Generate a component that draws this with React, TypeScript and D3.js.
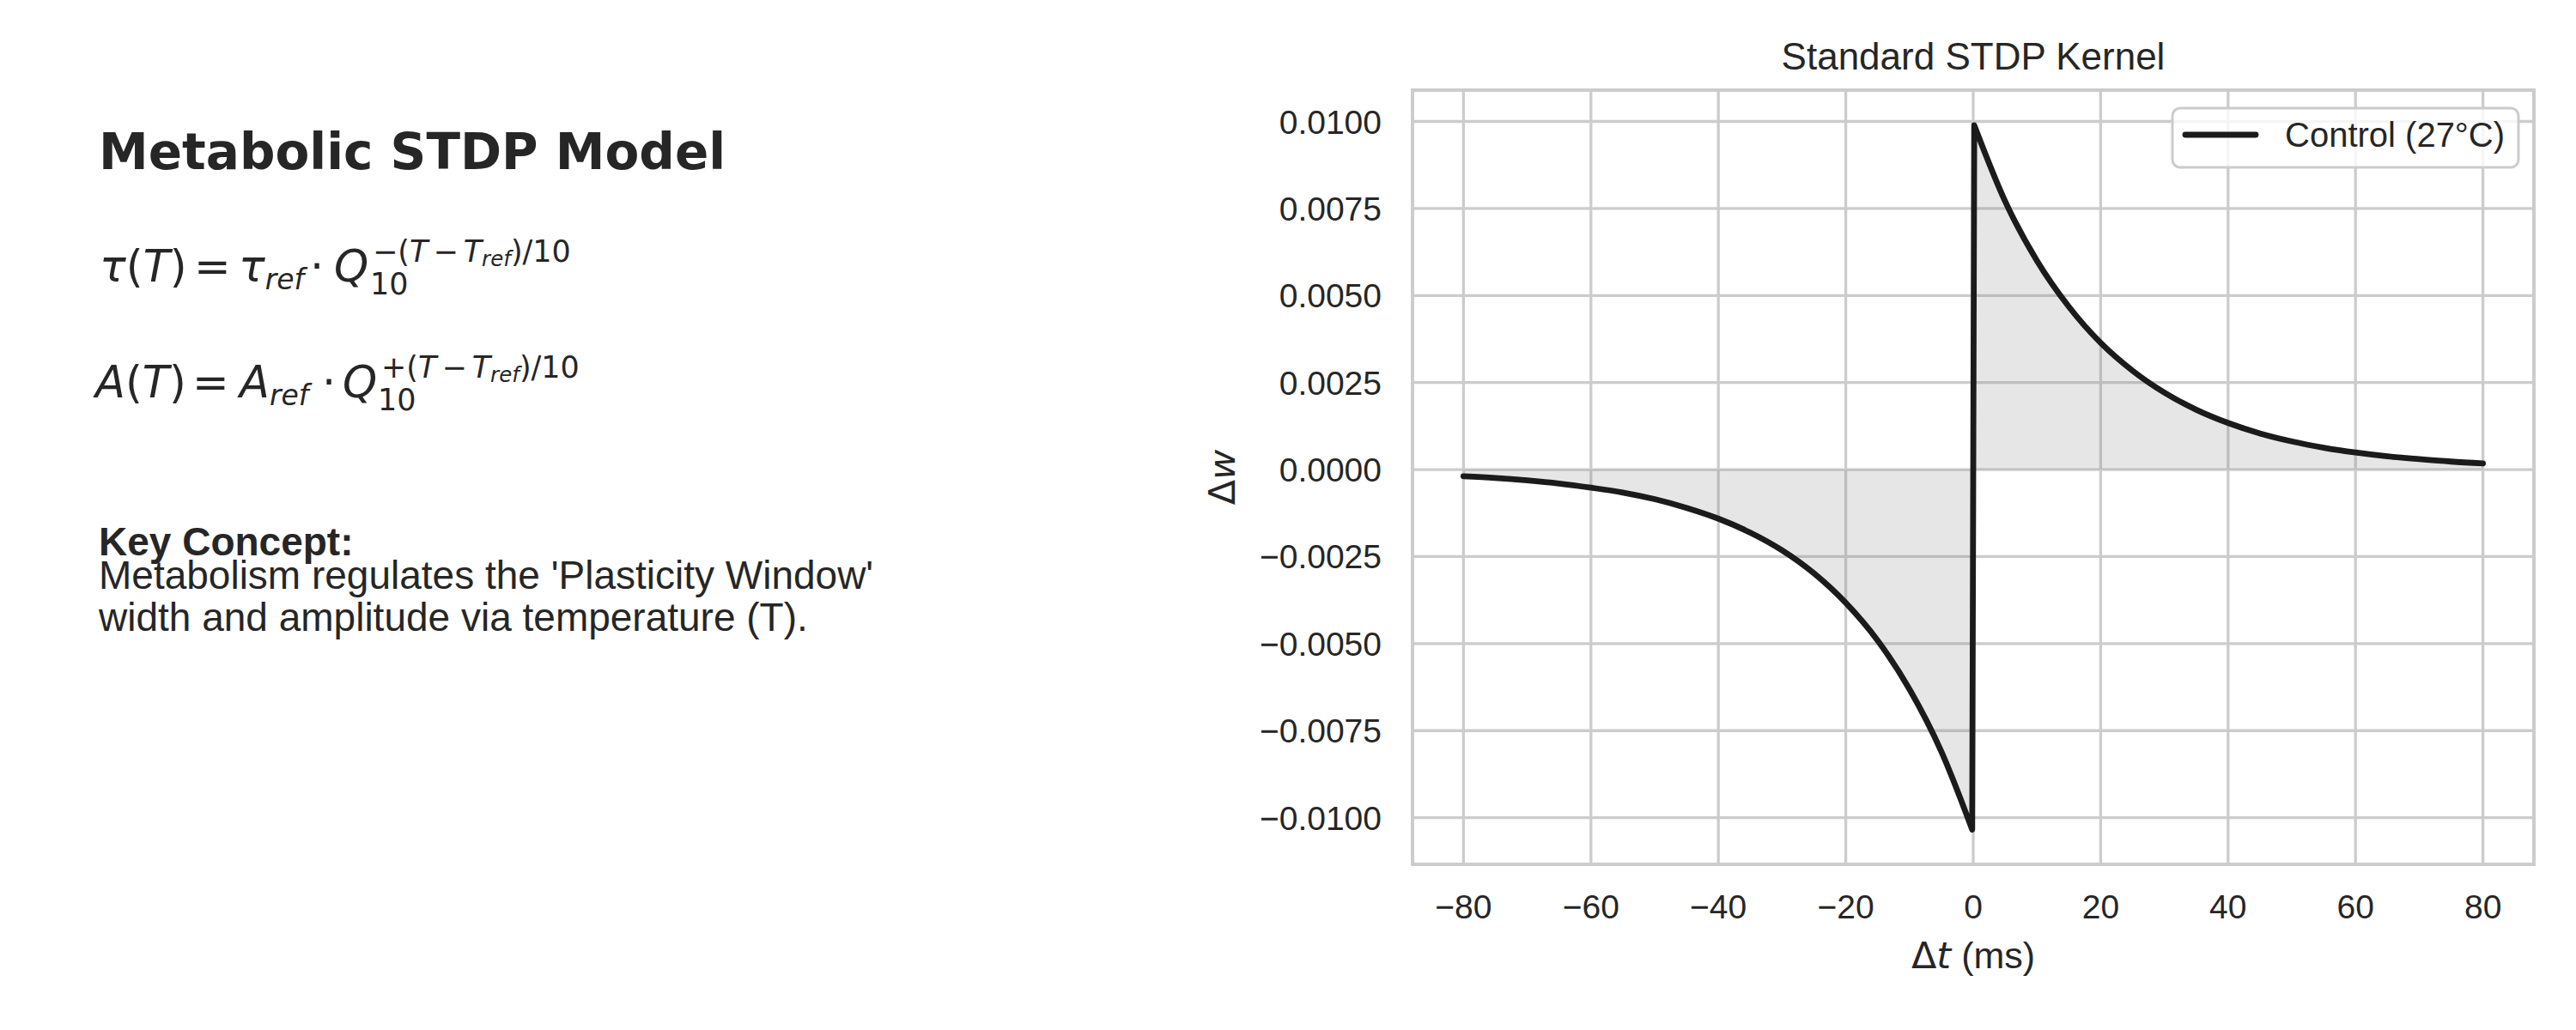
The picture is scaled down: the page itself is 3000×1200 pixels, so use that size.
import React, { useEffect, useRef } from "react";
import * as d3 from "d3";

// STDP kernel (Δt in ms, Δw)
const preTimes = [-80, -75, -70, -65, -60, -55, -50, -45, -40, -35, -30, -25, -20, -15, -10, -5, -0.16];
const preDw = [-0.00019, -0.00024, -0.00031, -0.0004, -0.00052, -0.00066, -0.00085, -0.0011, -0.00141, -0.00181, -0.00232, -0.00298, -0.00383, -0.00491, -0.00631, -0.0081, -0.01034];
const postTimes = [0.16, 5, 10, 15, 20, 25, 30, 35, 40, 45, 50, 55, 60, 65, 70, 75, 80];
const postDw = [0.00989, 0.00771, 0.006, 0.00468, 0.00364, 0.00284, 0.00221, 0.00172, 0.00134, 0.00104, 0.00081, 0.00063, 0.00049, 0.00038, 0.0003, 0.00023, 0.00018];

const xTicks = [-80, -60, -40, -20, 0, 20, 40, 60, 80];
const yTicks = [-0.01, -0.0075, -0.005, -0.0025, 0, 0.0025, 0.005, 0.0075, 0.01];
const xDomain = [-88, 88];
const yDomain = [-0.01134, 0.0109];

const chartTitle = "Standard STDP Kernel";
const seriesName = "Control (27°C)";
const panelTitle = "Metabolic STDP Model";
const noteHead = "Key Concept:";
const noteLines = ["Metabolism regulates the 'Plasticity Window'", "width and amplitude via temperature (T)."];

const INK = "#262626";
const GRID = "#cccccc";
const SANS = "'Liberation Sans', Arial, sans-serif";
const MATH = "'DejaVu Sans', sans-serif";

const plot = { left: 1645, right: 2951, top: 105, bottom: 1007 };

function Chart() {
  const ref = useRef<SVGGElement>(null);

  useEffect(() => {
    const g = d3.select(ref.current).html("");

    const x = d3.scaleLinear().domain(xDomain).range([plot.left, plot.right]);
    const y = d3.scaleLinear().domain(yDomain).range([plot.bottom, plot.top]);

    const pre = preTimes.map((t, i) => ({ t, w: preDw[i] }));
    const post = postTimes.map((t, i) => ({ t, w: postDw[i] }));

    // grid
    g.append("g")
      .selectAll("line")
      .data(xTicks)
      .join("line")
      .attr("x1", d => x(d))
      .attr("x2", d => x(d))
      .attr("y1", plot.top)
      .attr("y2", plot.bottom)
      .attr("stroke", GRID)
      .attr("stroke-width", 3.3);

    g.append("g")
      .selectAll("line")
      .data(yTicks)
      .join("line")
      .attr("x1", plot.left)
      .attr("x2", plot.right)
      .attr("y1", d => y(d))
      .attr("y2", d => y(d))
      .attr("stroke", GRID)
      .attr("stroke-width", 3.3);

    // shaded area under kernel
    const area = d3.area<{ t: number; w: number }>()
      .x(d => x(d.t))
      .y0(y(0))
      .y1(d => y(d.w))
      .curve(d3.curveMonotoneX);

    [pre, post].forEach(part => {
      g.append("path")
        .attr("d", area(part))
        .attr("fill", "#808080")
        .attr("fill-opacity", 0.2);
    });

    // kernel line, pre and post branches joined by the jump at 0
    const line = d3.line<{ t: number; w: number }>()
      .x(d => x(d.t))
      .y(d => y(d.w))
      .curve(d3.curveMonotoneX);

    const path = (line(pre) || "") + (line(post) || "").replace(/^M/, "L");
    g.append("path")
      .attr("d", path)
      .attr("fill", "none")
      .attr("stroke", "#1b1b1b")
      .attr("stroke-width", 6.8)
      .attr("stroke-linejoin", "round")
      .attr("stroke-linecap", "round");

    // spines
    g.append("rect")
      .attr("x", plot.left)
      .attr("y", plot.top)
      .attr("width", plot.right - plot.left)
      .attr("height", plot.bottom - plot.top)
      .attr("fill", "none")
      .attr("stroke", GRID)
      .attr("stroke-width", 4);

    // tick labels
    const fx = d3.format("d");
    const fy = d3.format(".4f");

    g.append("g")
      .selectAll("text")
      .data(xTicks)
      .join("text")
      .attr("x", d => x(d))
      .attr("y", 1070)
      .attr("text-anchor", "middle")
      .attr("font-family", SANS)
      .attr("font-size", 39)
      .attr("fill", INK)
      .text(d => fx(d));

    g.append("g")
      .selectAll("text")
      .data(yTicks)
      .join("text")
      .attr("x", 1609)
      .attr("y", d => y(d) + 14)
      .attr("text-anchor", "end")
      .attr("font-family", SANS)
      .attr("font-size", 39)
      .attr("fill", INK)
      .text(d => fy(d));

    // title
    g.append("text")
      .attr("x", (plot.left + plot.right) / 2)
      .attr("y", 81)
      .attr("text-anchor", "middle")
      .attr("font-family", SANS)
      .attr("font-size", 44)
      .attr("fill", INK)
      .text(chartTitle);

    // axis labels
    const xl = g.append("text")
      .attr("x", (plot.left + plot.right) / 2)
      .attr("y", 1128)
      .attr("text-anchor", "middle")
      .attr("font-size", 43)
      .attr("fill", INK);
    xl.append("tspan").attr("font-family", MATH).text("Δ");
    xl.append("tspan").attr("font-family", MATH).attr("font-style", "italic").text("t");
    xl.append("tspan").attr("font-family", SANS).text(" (ms)");

    const yl = g.append("text")
      .attr("transform", `translate(1438,${(plot.top + plot.bottom) / 2}) rotate(-90)`)
      .attr("text-anchor", "middle")
      .attr("font-family", MATH)
      .attr("font-size", 43)
      .attr("fill", INK);
    yl.append("tspan").text("Δ");
    yl.append("tspan").attr("font-style", "italic").text("w");

    // legend
    const lg = g.append("g");
    lg.append("rect")
      .attr("x", 2530)
      .attr("y", 126)
      .attr("width", 403)
      .attr("height", 69)
      .attr("rx", 9)
      .attr("fill", "#ffffff")
      .attr("fill-opacity", 0.8)
      .attr("stroke", GRID)
      .attr("stroke-width", 3);
    lg.append("line")
      .attr("x1", 2545)
      .attr("x2", 2627)
      .attr("y1", 157)
      .attr("y2", 157)
      .attr("stroke", "#1b1b1b")
      .attr("stroke-width", 6.8)
      .attr("stroke-linecap", "round");
    lg.append("text")
      .attr("x", 2661)
      .attr("y", 171)
      .attr("font-family", SANS)
      .attr("font-size", 40)
      .attr("fill", INK)
      .text(seriesName);
  }, []);

  return <g ref={ref} />;
}

function Formula({ x0, base, lhs, eqX, refX, dotX, qX, subX, supX, sign }: any) {
  return (
    <text fontFamily={MATH} fontSize={51} fill={INK}>
      <tspan x={x0} y={base} fontStyle="italic">{lhs}</tspan>
      <tspan>(</tspan>
      <tspan fontStyle="italic">T</tspan>
      <tspan>)</tspan>
      <tspan x={eqX}>=</tspan>
      <tspan x={refX} fontStyle="italic">{lhs}</tspan>
      <tspan fontStyle="italic" fontSize={33} y={base + 9}>ref</tspan>
      <tspan x={dotX} y={base}>·</tspan>
      <tspan x={qX} fontStyle="italic">Q</tspan>
      <tspan x={subX} y={base + 15} fontSize={35}>10</tspan>
      <tspan x={supX} y={base - 23} fontSize={35}>{sign + "("}</tspan>
      <tspan fontStyle="italic" fontSize={35}>T</tspan>
      <tspan fontSize={35} dx={6}>−</tspan>
      <tspan fontStyle="italic" fontSize={35} dx={6}>T</tspan>
      <tspan fontStyle="italic" fontSize={24.5} y={base - 18}>ref</tspan>
      <tspan fontSize={35} y={base - 23}>)/10</tspan>
    </text>
  );
}

export default function App() {
  return (
    <svg
      width={3000}
      height={1200}
      style={{ position: "absolute", left: 0, top: 0, background: "#ffffff" }}
    >
      <text x={115} y={197} fontFamily={MATH} fontWeight="bold" fontSize={58} fill={INK}>
        {panelTitle}
      </text>
      <Formula x0={116} base={328} lhs="τ" eqX={226} refX={278} dotX={361} qX={389} subX={431} supX={434} sign="−" />
      <Formula x0={111} base={463} lhs="A" eqX={224} refX={279} dotX={375} qX={399} subX={440} supX={444} sign="+" />
      <text x={115} y={647} fontFamily={SANS} fontWeight="bold" fontSize={46} fill={INK}>
        {noteHead}
      </text>
      {noteLines.map((l, i) => (
        <text key={i} x={115} y={686 + i * 49} fontFamily={SANS} fontSize={46} fill={INK}>
          {l}
        </text>
      ))}
      <Chart />
    </svg>
  );
}
